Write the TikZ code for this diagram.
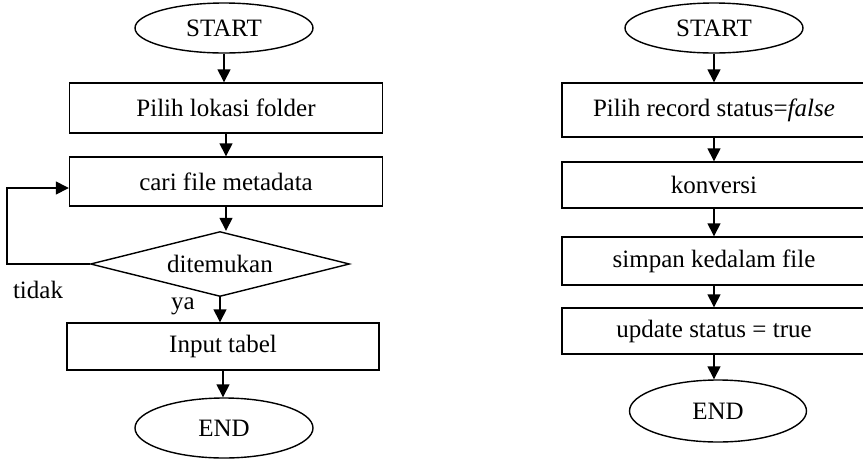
\documentclass[tikz,border=0pt]{standalone}
\usepackage{fontspec}
\setmainfont{Liberation Serif}
\usetikzlibrary{shapes.geometric,arrows.meta,calc}
\begin{document}
\begin{tikzpicture}[x=1pt,y=-1pt,
  every node/.style={font=\fontsize{25}{29}\selectfont, inner sep=0pt},
  term/.style={ellipse, draw, line width=1.4pt, minimum width=178pt, minimum height=50pt},
  proc/.style={rectangle, draw, line width=1.4pt, minimum width=313pt, minimum height=49pt},
  dec/.style={diamond, draw, line width=1.4pt, minimum width=259pt, minimum height=65pt, aspect=4},
  arr/.style={line width=1.4pt, -{Triangle[length=13pt,width=13pt]}}
]
\useasboundingbox (0,0) rectangle (863,459);
% left flowchart
\node[term] (s1) at (224,28) {START};
\node[proc, minimum height=50pt] (p1) at (226,108) {Pilih lokasi folder};
\node[proc] (p2) at (226,181.5) {cari file metadata};
\node[dec] (d1) at (220,264) {ditemukan};
\node[proc, minimum width=312pt, minimum height=47pt] (p3) at (223,346.5) {Input tabel};
\node[term, minimum height=60pt] (e1) at (224,428) {END};
\node (t) at (38,290) {tidak};
\node (y) at (183,306) {ya};
\draw[arr] (s1.south) -- (s1.south |- p1.north);
\draw[arr] (p1.south) -- (p1.south |- p2.north);
\draw[arr] (p2.south) -- (p2.south |- d1.north);
\draw[arr] (d1.south) -- (d1.south |- p3.north);
\draw[arr] (p3.south) -- (p3.south |- e1.north);
\coordinate (lc) at (7,264);
\draw[arr] (d1.west) -- (lc) |- ($(p2.west)+(0,6.5)$);
% right flowchart
\node[term] (s2) at (714,28) {START};
\node[proc, minimum width=304pt, minimum height=54pt] (q1) at (714,110) {Pilih record status=\textit{false}};
\node[proc, minimum width=304pt, minimum height=46pt] (q2) at (714,185) {konversi};
\node[proc, minimum width=304pt, minimum height=48pt] (q3) at (714,261) {simpan kedalam file};
\node[proc, minimum width=304pt, minimum height=46pt] (q4) at (714,331) {update status = true};
\node[term, minimum width=177pt, minimum height=62pt] (e2) at (718,411) {END};
\draw[arr] (s2.south) -- (s2.south |- q1.north);
\draw[arr] (q1.south) -- (q1.south |- q2.north);
\draw[arr] (q2.south) -- (q2.south |- q3.north);
\draw[arr] (q3.south) -- (q3.south |- q4.north);
\draw[arr] (q4.south) -- (q4.south |- e2.north);
\end{tikzpicture}
\end{document}
